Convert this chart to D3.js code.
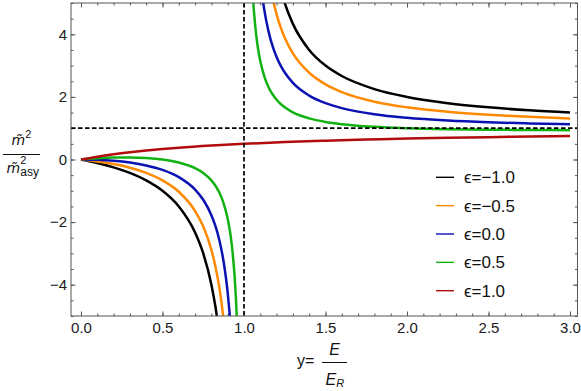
<!DOCTYPE html>
<html>
<head>
<meta charset="utf-8">
<script src="https://cdn.jsdelivr.net/npm/d3@7"></script>
<style>
  body { margin: 0; background: #fff; }
  svg { display: block; font-family: "Liberation Sans", Arial, sans-serif; }
  .tick text { fill: #1a1a1a; font-size: 15px; }
  .tick line { stroke: #555; }
</style>
</head>
<body>
<div id="chart"></div>
<script>
// values
const xLow = [0, 0.1, 0.2, 0.3, 0.4, 0.5, 0.6, 0.7, 0.75, 0.8, 0.825, 0.85, 0.875, 0.9, 0.925, 0.95, 0.9625, 0.975]
const lowM10 = [0, -0.111, -0.25, -0.429, -0.667, -1, -1.5, -2.333, -3, -4, -4.714, -5.667, -7, -9, -12.33, -19, -25.67, -39]
const lowM05 = [0, -0.061, -0.146, -0.264, -0.429, -0.667, -1.031, -1.647, -2.143, -2.889, -3.423, -4.135, -5.133, -6.632, -9.13, -14.13, -19.13, -29.1]
const low00 = [0, -0.010, -0.042, -0.099, -0.190, -0.333, -0.563, -0.961, -1.286, -1.778, -2.131, -2.604, -3.267, -4.263, -5.926, -9.256, -12.59, -19.25]
const lowP05 = [0, 0.040, 0.063, 0.066, 0.048, 0, -0.094, -0.275, -0.429, -0.667, -0.840, -1.072, -1.4, -1.895, -2.723, -4.385, -6.049, -9.38]

const xHigh = [1.0125, 1.025, 1.0375, 1.05, 1.0625, 1.075, 1.0875, 1.1, 1.125, 1.15, 1.175, 1.2, 1.225, 1.25, 1.3, 1.4, 1.5, 1.6, 1.8, 2.0, 2.25, 2.5, 2.75, 3.0]
const highM10 = [81, 41, 27.67, 21, 17, 14.33, 12.43, 11, 9, 7.667, 6.714, 6, 5.444, 5, 4.333, 3.5, 3, 2.667, 2.25, 2, 1.8, 1.667, 1.571, 1.5]
const highM05 = [60.88, 30.88, 20.88, 15.88, 12.88, 10.88, 9.452, 8.381, 6.882, 5.884, 5.171, 4.636, 4.221, 3.889, 3.391, 2.771, 2.4, 2.154, 1.848, 1.667, 1.523, 1.429, 1.362, 1.313]
const high00 = [40.75, 20.75, 14.09, 10.76, 8.757, 7.426, 6.475, 5.762, 4.765, 4.101, 3.627, 3.273, 2.997, 2.778, 2.449, 2.042, 1.8, 1.641, 1.446, 1.333, 1.246, 1.190, 1.152, 1.125]
const highP05 = [20.63, 10.63, 7.299, 5.634, 4.636, 3.972, 3.498, 3.143, 2.647, 2.318, 2.084, 1.909, 1.774, 1.667, 1.507, 1.313, 1.2, 1.128, 1.045, 1.0, 0.969, 0.952, 0.943, 0.938]

const xRed = [0, 0.1, 0.2, 0.3, 0.4, 0.5, 0.6, 0.8, 1.0, 1.25, 1.5, 1.75, 2.0, 2.25, 2.5, 2.75, 3.0]
const redP10 = [0, 0.091, 0.167, 0.231, 0.286, 0.333, 0.375, 0.444, 0.5, 0.556, 0.6, 0.636, 0.667, 0.692, 0.714, 0.733, 0.75]

const legendLabels = ["ϵ=−1.0", "ϵ=−0.5", "ϵ=0.0", "ϵ=0.5", "ϵ=1.0"]
const xTicks = [0, 0.5, 1, 1.5, 2, 2.5, 3]
const yTicks = [-4, -2, 0, 2, 4]
const colors = ["#000000", "#ff8a00", "#0c12b2", "#12b212", "#b20c0c"]

const width = 581, height = 391
const plotL = 71, plotR = 577.5, plotT = 3, plotB = 316

const svg = d3.select("#chart").append("svg")
    .attr("width", width)
    .attr("height", height)

const x = d3.scaleLinear().domain([-0.0613, 3.046]).range([plotL, plotR])
const y = d3.scaleLinear().domain([-5, 5]).range([plotB, plotT])

svg.append("clipPath").attr("id", "plotClip")
   .append("rect")
   .attr("x", plotL).attr("y", plotT)
   .attr("width", plotR - plotL).attr("height", plotB - plotT)

// minor ticks every 0.1 / 0.5
const xMinor = d3.range(0, 3.05, 0.1).map(d => +d.toFixed(1))
const yMinor = d3.range(-5, 5.01, 0.5)

function addAxis(axis, tx, ty){
    let g = svg.append("g").attr("transform", `translate(${tx},${ty})`).call(axis)
    g.select(".domain").remove()
    return g
}

addAxis(d3.axisBottom(x).tickValues(xMinor).tickSize(-2.5).tickFormat(""), 0, plotB)
addAxis(d3.axisTop(x).tickValues(xMinor).tickSize(-2.5).tickFormat(""), 0, plotT)
addAxis(d3.axisLeft(y).tickValues(yMinor).tickSize(-2.5).tickFormat(""), plotL, 0)
addAxis(d3.axisRight(y).tickValues(yMinor).tickSize(-2.5).tickFormat(""), plotR, 0)

addAxis(d3.axisBottom(x).tickValues(xTicks).tickSize(-4.5).tickPadding(6).tickFormat(d3.format(".1f")), 0, plotB)
addAxis(d3.axisTop(x).tickValues(xTicks).tickSize(-4.5).tickFormat(""), 0, plotT)
addAxis(d3.axisLeft(y).tickValues(yTicks).tickSize(-4.5).tickPadding(4).tickFormat(d3.format("d")), plotL, 0)
addAxis(d3.axisRight(y).tickValues(yTicks).tickSize(-4.5).tickFormat(""), plotR, 0)

svg.selectAll(".tick text").attr("font-family", "Liberation Sans, Arial, sans-serif")

// curves
const line = d3.line()
    .x(d => x(d[0]))
    .y(d => y(d[1]))
    .curve(d3.curveMonotoneX)

const plot = svg.append("g").attr("clip-path", "url(#plotClip)")

const lowSets = [lowM10, lowM05, low00, lowP05]
const highSets = [highM10, highM05, high00, highP05]

lowSets.forEach((vals, i) => {
    plot.append("path")
        .attr("d", line(xLow.map((v, k) => [v, vals[k]])))
        .attr("fill", "none")
        .attr("stroke", colors[i])
        .attr("stroke-width", 2.5)
    plot.append("path")
        .attr("d", line(xHigh.map((v, k) => [v, highSets[i][k]])))
        .attr("fill", "none")
        .attr("stroke", colors[i])
        .attr("stroke-width", 2.5)
})
plot.append("path")
    .attr("d", line(xRed.map((v, k) => [v, redP10[k]])))
    .attr("fill", "none")
    .attr("stroke", colors[4])
    .attr("stroke-width", 2.5)

// dashed asymptotes
plot.append("line")
    .attr("x1", x(1)).attr("x2", x(1))
    .attr("y1", plotT).attr("y2", plotB)
    .attr("stroke", "#000").attr("stroke-width", 1.7)
    .attr("stroke-dasharray", "4.5,2.5")
plot.append("line")
    .attr("x1", plotL).attr("x2", plotR)
    .attr("y1", y(1)).attr("y2", y(1))
    .attr("stroke", "#000").attr("stroke-width", 1.7)
    .attr("stroke-dasharray", "4.5,2.5")

// frame
svg.append("rect")
   .attr("x", plotL).attr("y", plotT)
   .attr("width", plotR - plotL).attr("height", plotB - plotT)
   .attr("fill", "none")
   .attr("stroke", "#555")
   .attr("stroke-width", 1)

// legend
const legend = svg.append("g")
legendLabels.forEach((lab, i) => {
    let ly = 177.3 + i * 28.35
    legend.append("line")
          .attr("x1", 436).attr("x2", 454)
          .attr("y1", ly).attr("y2", ly)
          .attr("stroke", colors[i])
          .attr("stroke-width", 1.4)
    legend.append("text")
          .attr("x", 464).attr("y", ly)
          .attr("dy", "0.35em")
          .attr("font-size", 17)
          .attr("fill", "#111")
          .text(lab)
})

// y label  m~^2 / m~^2_asy
const yl = svg.append("g").attr("fill", "#111")
let num = yl.append("text").attr("x", 11.5).attr("y", 145)
num.append("tspan").attr("font-family", "DejaVu Sans").attr("font-style", "italic")
   .attr("font-size", 14).text("m\u0303")
num.append("tspan").attr("font-size", 11).attr("dy", -7).text("2")
yl.append("line")
  .attr("x1", 3).attr("x2", 40)
  .attr("y1", 154.5).attr("y2", 154.5)
  .attr("stroke", "#111").attr("stroke-width", 1)
let dnm = yl.append("text").attr("x", 6.5).attr("y", 173)
dnm.append("tspan").attr("font-family", "DejaVu Sans").attr("font-style", "italic")
   .attr("font-size", 14).text("m\u0303")
dnm.append("tspan").attr("font-size", 11).attr("dy", -9).text("2")
dnm.append("tspan").attr("font-size", 12).attr("dx", -6).attr("dy", 12).text("asy")

// x label  y = E / E_R
const xl = svg.append("g").attr("fill", "#111")
xl.append("text").attr("x", 297).attr("y", 366).attr("font-size", 16).text("y=")
xl.append("line")
  .attr("x1", 322).attr("x2", 347)
  .attr("y1", 362.5).attr("y2", 362.5)
  .attr("stroke", "#111").attr("stroke-width", 1)
xl.append("text").attr("x", 334.5).attr("y", 355).attr("font-size", 16)
  .attr("text-anchor", "middle").attr("font-style", "italic").text("E")
let den = xl.append("text").attr("x", 325.5).attr("y", 385).attr("font-size", 16).attr("font-style", "italic")
den.append("tspan").text("E")
den.append("tspan").attr("font-size", 11).attr("dy", 2).text("R")
</script>
</body>
</html>
